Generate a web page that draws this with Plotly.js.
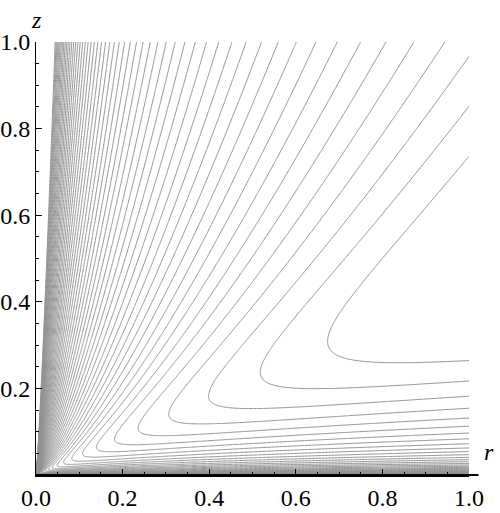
<!DOCTYPE html>
<html>
<head>
<meta charset="utf-8">
<script src="https://cdn.plot.ly/plotly-3.0.1.min.js"></script>
<style>html,body{margin:0;padding:0;background:#fff;}#chart{width:500px;height:513px;}</style>
</head>
<body>
<div id="chart"></div>
<script>
// ---- chart data ----
const xTickVals = [0, 0.2, 0.4, 0.6, 0.8, 1.0];
const xTickText = ['0.0', '0.2', '0.4', '0.6', '0.8', '1.0'];
const yTickVals = [0.2, 0.4, 0.6, 0.8, 1.0];
const yTickText = ['0.2', '0.4', '0.6', '0.8', '1.0'];
const minorTickVals = [0.05, 0.1, 0.15, 0.25, 0.3, 0.35, 0.45, 0.5, 0.55, 0.65, 0.7, 0.75, 0.85, 0.9, 0.95];
const axisLabels = ['r', 'z'];
// shape of one contour in log-polar form (fitted to the reference)
const shapeParams = [0.825, 2.775, 0.7, -0.605, 0.6, 1.1]; // m1, w, eps, u0, kappa, u1
// contour levels: innermost level, spacing (log of ratio between nested curves), count
const levelTop = -2.17;
const levelStep = Math.log(1.3);
const levelCount = 55;

// ---- field on a grid ----
function softplus(x){ return x > 30 ? x : Math.log(1 + Math.exp(x)); }
function D(u){
  const [m1, w, eps, u0, kap, u1] = shapeParams;
  const t = u - u0;
  const s = softplus(u - u1);
  return m1 * t + w * Math.sqrt(t * t + eps * eps) + kap * s * s;
}
function grid(n, p){ const a = []; for (let i = 1; i <= n; i++) a.push(Math.pow(i / n, p)); return a; }
const rGrid = grid(450, 1.8);
const zGrid = grid(450, 1.8);
const field = zGrid.map(z => rGrid.map(r => 0.5 * Math.log(r * r + z * z) - D(Math.log(z / r))));

const trace = {
  type: 'contour', x: rGrid, y: zGrid, z: field,
  autocontour: false,
  contours: {start: levelTop - (levelCount - 1) * levelStep, end: levelTop + 1e-6, size: levelStep, coloring: 'lines'},
  colorscale: [[0, '#929292'], [1, '#929292']],
  showscale: false,
  line: {width: 1, smoothing: 1},
  hoverinfo: 'skip'
};

const serif = '"Liberation Serif", "Times New Roman", Times, serif';
const tickFont = {family: serif, size: 24, color: '#000'};
const layout = {
  width: 500, height: 513,
  font: {family: serif, size: 24, color: '#000'},
  margin: {l: 36, r: 31, t: 42, b: 38, pad: 0},
  paper_bgcolor: '#fff', plot_bgcolor: '#fff',
  showlegend: false,
  xaxis: {range: [0, 1], tickvals: xTickVals, ticktext: xTickText, ticks: 'inside', ticklen: 6, tickcolor: '#000',
          showline: true, linecolor: '#000', linewidth: 2, showgrid: false, zeroline: false, tickfont: tickFont,
          minor: {tickvals: minorTickVals, ticks: 'inside', ticklen: 3, tickcolor: '#000'}},
  yaxis: {range: [0, 1], tickvals: yTickVals, ticktext: yTickText, ticks: 'inside', ticklen: 6, tickcolor: '#000',
          showline: true, linecolor: '#000', linewidth: 1, showgrid: false, zeroline: false, tickfont: tickFont,
          minor: {tickvals: minorTickVals, ticks: 'inside', ticklen: 3, tickcolor: '#000'}},
  shapes: [
    {type: 'line', xref: 'paper', yref: 'paper', x0: 0, x1: 1.022, y0: 0, y1: 0, line: {color: '#000', width: 2}}
  ],
  annotations: [
    {xref: 'paper', yref: 'paper', x: 1.046, y: 0.053, text: '<i>' + axisLabels[0] + '</i>', showarrow: false,
     font: {family: serif, size: 24, color: '#000'}, xanchor: 'center', yanchor: 'middle'},
    {xref: 'paper', yref: 'paper', x: 0.0, y: 1.05, text: '<i>' + axisLabels[1] + '</i>', showarrow: false,
     font: {family: serif, size: 24, color: '#000'}, xanchor: 'center', yanchor: 'middle'}
  ]
};

Plotly.newPlot('chart', [trace], layout, {displayModeBar: false, staticPlot: true});
</script>
</body>
</html>
